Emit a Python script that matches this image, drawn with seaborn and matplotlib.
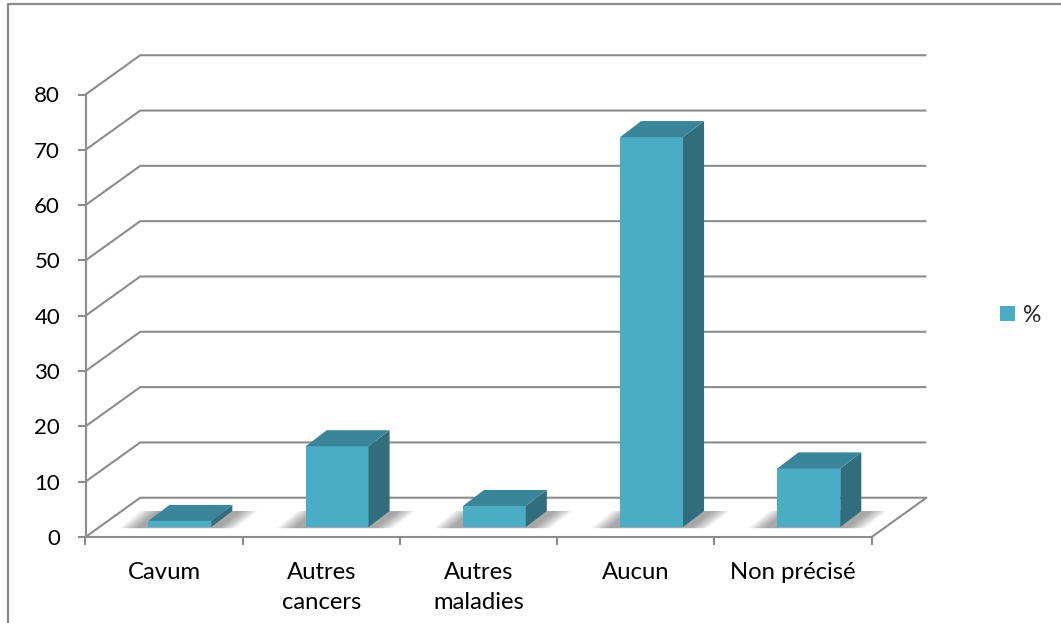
import numpy as np
import pandas as pd
import matplotlib
matplotlib.use("Agg")
import matplotlib.pyplot as plt
from matplotlib.lines import Line2D
import matplotlib.transforms as mtransforms
import seaborn as sns

# --- data -------------------------------------------------------------
categories = ["Cavum", "Autres\ncancers", "Autres\nmaladies", "Aucun", "Non précisé"]
percent = [1.1, 14.6, 3.8, 70.5, 10.6]
y_ticks = [0, 10, 20, 30, 40, 50, 60, 70, 80]
series_name = "%"

# --- style ------------------------------------------------------------
FRONT = "#4BACC6"
TOP = "#3A8599"
SIDE = "#306E7E"
GRID = "#8C8C8C"

sns.set_theme(style="white")
plt.rcParams["font.family"] = ["Lato", "DejaVu Sans"]

W, H = 1061, 623
fig = plt.figure(figsize=(W / 100, H / 100), dpi=100)
fig.patch.set_facecolor("white")

# front plane of the 3-D box (pixels -> figure fractions)
left_px, right_px, bottom_px, top_px = 85.5, 871.7, 537.0, 94.5
ax = fig.add_axes([left_px / W, 1 - bottom_px / H,
                   (right_px - left_px) / W, (bottom_px - top_px) / H])
ax.set_facecolor("none")

# oblique depth of the box, in data units
XL, XR = -0.6, 4.4          # front axis extent (category units)
DX, DY = 0.348, 7.1         # full depth of floor / walls
BAR_W = 0.40                # bar width
BAR_Y0 = 1.8                # bar front bottom (floor depth offset)
BDX, BDY = 0.134, 2.9       # bar depth

df = pd.DataFrame({"cat": categories, "pct": percent})

# front faces of the bars
sns.barplot(data=df, x="cat", y="pct", bottom=BAR_Y0, width=BAR_W,
            color=FRONT, saturation=1, errorbar=None, linewidth=0,
            label=series_name, ax=ax, zorder=5)

# walls and floor: grid lines running along the side and back walls
for v in y_ticks:
    ax.plot([XL, XL + DX, XR + DX], [v, v + DY, v + DY], color=GRID,
            lw=1.5, clip_on=False, zorder=1, solid_capstyle="butt")
ax.plot([XR, XR + DX], [0, DY], color=GRID, lw=1.5, clip_on=False, zorder=1)

# soft shadows, side and top faces of each bar
for i, v in enumerate(percent):
    x0, x1 = i - BAR_W / 2, i + BAR_W / 2
    for k in range(9):
        g = 0.013 * k
        ax.fill([x0 - 0.08 - g, x1 + 0.05 + g, x1 + BDX + 0.06 + g, x0 + BDX - 0.08 - g],
                [BAR_Y0 - 0.2, BAR_Y0 - 0.2, BAR_Y0 + BDY, BAR_Y0 + BDY],
                color="black", alpha=0.045, lw=0, zorder=2, clip_on=False)
    ax.fill([x1, x1 + BDX, x1 + BDX, x1],
            [BAR_Y0, BAR_Y0 + BDY, BAR_Y0 + v + BDY, BAR_Y0 + v],
            color=SIDE, lw=0, zorder=5, clip_on=False)
    ax.fill([x0, x1, x1 + BDX, x0 + BDX],
            [BAR_Y0 + v, BAR_Y0 + v, BAR_Y0 + v + BDY, BAR_Y0 + v + BDY],
            color=TOP, lw=0, zorder=5, clip_on=False)

# axes, ticks, labels
ax.set_xlim(XL, XR)
ax.set_ylim(0, 80)
ax.set_yticks(y_ticks)
ax.set_yticklabels([str(t) for t in y_ticks])
label_pos = np.arange(len(categories)) + (XL + 0.5)
ax.set_xticks([])
ax.set_xticks(np.arange(len(categories) + 1) + XL, minor=True)
ax.set_xlabel("")
ax.set_ylabel("")

for side in ("top", "right"):
    ax.spines[side].set_visible(False)
for side in ("left", "bottom"):
    ax.spines[side].set_visible(True)
    ax.spines[side].set_color(GRID)
    ax.spines[side].set_linewidth(1.5)
    ax.spines[side].set_zorder(1)

ax.tick_params(axis="y", which="major", direction="out", length=5.8, width=1.5,
               color=GRID, pad=12.5, labelsize=16, labelcolor="black", left=True)
ax.tick_params(axis="x", which="minor", direction="out", length=6, width=1.5,
               color=GRID, bottom=True, labelbottom=False)
ax.grid(False)

# category labels below the front axis
below = mtransforms.offset_copy(ax.get_xaxis_transform(), fig=fig, y=-25, units="dots")
for xp, lab in zip(label_pos, categories):
    ax.text(xp, 0, lab, transform=below, ha="center", va="top",
            multialignment="center", linespacing=1.55, fontsize=17.2,
            color="black", clip_on=False)

# legend
leg = ax.legend(loc="center left", bbox_to_anchor=(1000 / W, 1 - 315 / H),
                bbox_transform=fig.transFigure, frameon=False, fontsize=16.5,
                handlelength=0.65, handleheight=0.65, handletextpad=0.35,
                borderpad=0, borderaxespad=0)

# chart frame (top and left edges)
fig.add_artist(Line2D([8 / W, 8 / W, 1.0], [0.0, 1 - 4 / H, 1 - 4 / H],
                      transform=fig.transFigure, color="#8A8A8A", lw=1.6))

fig.savefig("out.png", dpi=100, facecolor="white")
